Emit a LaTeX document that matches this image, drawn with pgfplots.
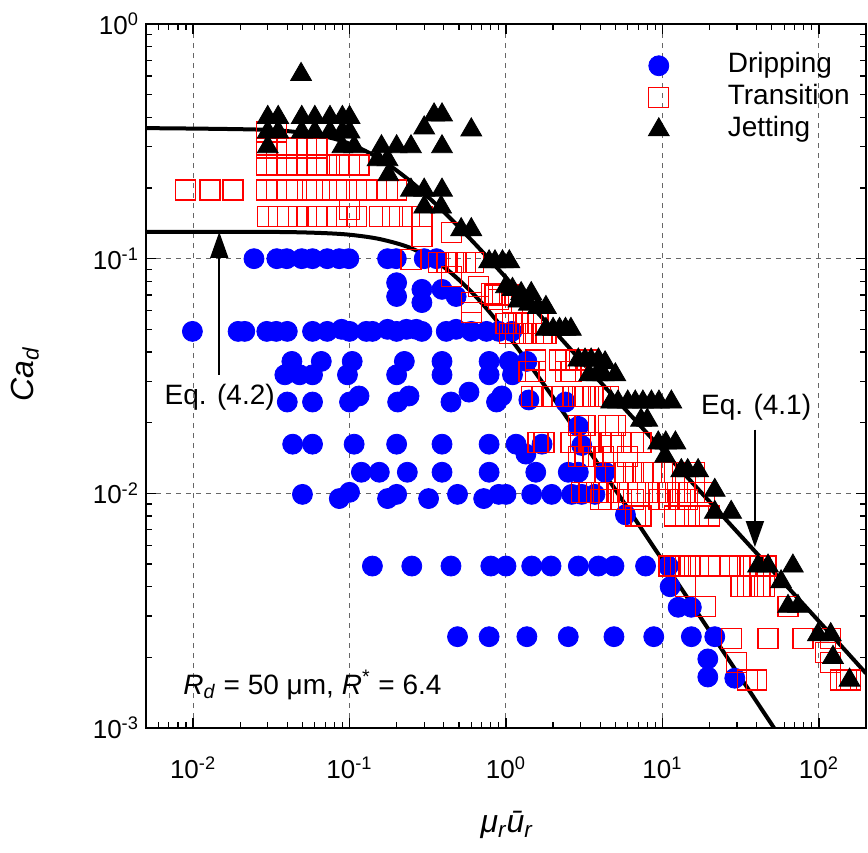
\documentclass[border=0pt]{standalone}
\usepackage{fontspec}
\setmainfont{Liberation Sans}
\usepackage{pgfplots}
\pgfplotsset{compat=1.18}
\usetikzlibrary{arrows.meta}
\definecolor{dblue}{RGB}{0,0,255}
\definecolor{dred}{RGB}{255,0,0}
\begin{document}
\begin{tikzpicture}
\begin{axis}[
  xmode=log, ymode=log,
  scale only axis, width=360pt, height=352pt,
  xmin=5e-3, xmax=200, ymin=1e-3, ymax=1,
  xtick={1e-2,1e-1,1,10,100},
  xticklabels={10\textsuperscript{-2},10\textsuperscript{-1},10\textsuperscript{0},10\textsuperscript{1},10\textsuperscript{2}},
  ytick={1e-3,1e-2,1e-1,1},
  yticklabels={10\textsuperscript{-3},10\textsuperscript{-2},10\textsuperscript{-1},10\textsuperscript{0}},
  minor xtick={6e-3,7e-3,8e-3,9e-3,2e-2,3e-2,4e-2,5e-2,6e-2,7e-2,8e-2,9e-2,0.2,0.3,0.4,0.5,0.6,0.7,0.8,0.9,2,3,4,5,6,7,8,9,20,30,40,50,60,70,80,90,200},
  minor ytick={2e-3,3e-3,4e-3,5e-3,6e-3,7e-3,8e-3,9e-3,2e-2,3e-2,4e-2,5e-2,6e-2,7e-2,8e-2,9e-2,0.2,0.3,0.4,0.5,0.6,0.7,0.8,0.9},
  tick align=inside,
  major tick length=5pt, minor tick length=3pt,
  tick style={black, line width=0.6pt},
  axis line style={line width=1.3pt},
  grid=major,
  major grid style={dash pattern=on 2.5pt off 2.5pt, black!60, line width=0.5pt},
  tick label style={font=\fontsize{13}{15}\selectfont},
  xticklabel style={yshift=-11pt},
  xlabel={\textit{μ\textsubscript{r}ū\textsubscript{r}}},
  ylabel={\textit{Ca}\textsubscript{\textit{d}}},
  xlabel style={at={(axis description cs:0.501,-0.138)}, anchor=center, font=\fontsize{16}{18}\selectfont},
  ylabel style={at={(axis description cs:-0.168,0.503)}, anchor=center, font=\fontsize{16}{18}\selectfont},
  legend style={at={(0.695,0.964)}, anchor=north west, draw=none, fill=none,
    font=\fontsize{14}{16}\selectfont, inner sep=0pt, row sep=0pt,
    nodes={text height=10pt, text depth=3pt, inner sep=1.5pt}},
  legend cell align=left,
  legend image code/.code={\path[draw=none,fill=none] (-6pt,-1pt) rectangle (33pt,1pt); \draw[#1] plot coordinates {(0pt,0pt)};},
]
% Dripping
\addplot[only marks, mark=*, mark size=5pt, color=dblue, mark options={fill=dblue, draw=dblue}] coordinates {
(0.0245,0.1)(0.0343,0.1)(0.0397,0.1)(0.0495,0.1)(0.058,0.1)(0.072,0.1)(0.086,0.1)(0.099,0.1)(0.175,0.1)(0.199,0.1)(0.30,0.1)(0.36,0.1)
(0.2,0.079)(0.2,0.069)(0.29,0.074)(0.29,0.065)(0.39,0.074)(0.48,0.069)
(0.0099,0.049)(0.0194,0.049)(0.0214,0.049)(0.0296,0.049)(0.034,0.049)(0.040,0.049)(0.058,0.049)(0.072,0.049)(0.089,0.05)(0.1,0.049)(0.128,0.049)(0.14,0.049)(0.175,0.05)(0.2,0.049)(0.231,0.05)(0.267,0.05)(0.29,0.049)(0.415,0.049)(0.48,0.05)(0.6,0.049)(0.75,0.049)(0.9,0.049)(1.09,0.049)
(0.0428,0.0365)(0.066,0.0365)(0.104,0.0365)(0.224,0.0365)(0.39,0.0365)(0.78,0.0365)(1.05,0.0365)(1.36,0.0365)
(0.0386,0.032)(0.048,0.032)(0.058,0.032)(0.097,0.032)(0.2,0.032)(0.39,0.032)(0.78,0.032)(1.1,0.032)
(0.040,0.0245)(0.058,0.0245)(0.1,0.0245)(0.115,0.026)(0.203,0.0245)(0.24,0.026)(0.445,0.0245)(0.58,0.027)(0.87,0.0245)(0.94,0.026)(1.4,0.025)(2.4,0.0245)
(0.0433,0.0162)(0.058,0.0162)(0.107,0.0162)(0.2,0.0162)(0.39,0.0162)(0.78,0.0162)(1.16,0.0162)(1.7,0.0162)(3.05,0.016)(2.9,0.0193)(1.34,0.0147)
(0.119,0.0123)(0.155,0.0123)(0.234,0.0123)(0.39,0.0123)(0.78,0.0123)(1.55,0.0123)(2.5,0.0123)(2.9,0.0123)(4.3,0.0123)
(0.05,0.0099)(0.086,0.0095)(0.1,0.0101)(0.175,0.0095)(0.2,0.0099)(0.32,0.0095)(0.49,0.0099)(0.72,0.0095)(0.9,0.0099)(1.0,0.0099)(1.46,0.0099)(1.96,0.0099)(2.63,0.0099)(3.05,0.0099)(3.7,0.0099)(5.8,0.0081)
(0.14,0.0049)(0.25,0.0049)(0.445,0.0049)(0.8,0.0049)(1.0,0.0049)(1.46,0.0049)(1.94,0.0049)(2.9,0.0049)(3.9,0.0049)(4.9,0.0049)(7.8,0.0049)(10.9,0.0049)(11.2,0.0040)(12.6,0.00327)(15.3,0.00327)
(0.49,0.00245)(0.78,0.00245)(1.36,0.00245)(2.5,0.00245)(4.9,0.00245)(8.8,0.00245)(15.3,0.00245)(21.6,0.00245)(19.5,0.00197)(19.5,0.00165)(29,0.00163)
};
\addlegendentry{Dripping}
% Transition
\addplot[only marks, mark=square, mark size=5pt, color=dred, mark options={line width=0.65pt}] coordinates {
(0.0089,0.196)(0.0128,0.196)(0.018,0.196)
(0.0296,0.347)(0.0343,0.347)
(0.0296,0.296)(0.0343,0.296)(0.040,0.296)(0.053,0.296)(0.062,0.296)
(0.0296,0.251)(0.0343,0.251)(0.040,0.251)(0.046,0.251)(0.053,0.251)(0.062,0.251)(0.071,0.251)(0.086,0.251)(0.1,0.251)(0.115,0.251)
(0.0296,0.196)(0.0343,0.196)(0.040,0.196)(0.046,0.196)(0.058,0.196)(0.071,0.196)(0.086,0.196)(0.111,0.196)(0.128,0.196)(0.175,0.196)(0.2,0.196)
(0.030,0.151)(0.035,0.151)(0.040,0.151)(0.047,0.151)(0.053,0.151)(0.062,0.151)(0.071,0.151)(0.083,0.151)(0.096,0.151)(0.111,0.151)(0.155,0.151)(0.188,0.151)(0.241,0.151)(0.29,0.151)
(0.1,0.162)(0.29,0.124)(0.45,0.129)
(0.247,0.099)(0.37,0.096)(0.42,0.096)(0.48,0.096)(0.55,0.096)(0.62,0.096)(0.45,0.084)(0.67,0.076)(0.6,0.065)(0.81,0.071)(0.9,0.067)(0.6,0.059)
(0.85,0.07)(0.95,0.07)(1.05,0.07)(1.1,0.065)(1.25,0.065)
(1.0,0.053)(1.1,0.053)(1.2,0.053)(1.3,0.053)(1.45,0.053)(1.6,0.053)
(1.05,0.048)(1.15,0.048)(1.3,0.048)(1.5,0.048)(1.7,0.048)(1.8,0.048)
(1.55,0.037)(2.2,0.037)(2.4,0.037)(2.8,0.037)(3.3,0.037)
(1.4,0.033)(1.55,0.033)(2.4,0.033)(2.6,0.033)
(1.46,0.0258)(1.7,0.0258)(2.0,0.0258)(2.3,0.0258)(2.9,0.0258)(3.2,0.0258)(3.6,0.0258)(4.0,0.0258)(4.5,0.0258)
(2.9,0.0195)(3.2,0.0195)(4.5,0.0195)(5.0,0.0195)
(1.6,0.0165)(1.75,0.0165)(2.6,0.0165)(3.0,0.0165)(3.4,0.0165)(4.0,0.0165)(4.7,0.0165)(5.5,0.0165)(6.5,0.0165)(7.3,0.0165)
(2.9,0.0144)(3.2,0.0144)(3.6,0.0144)(4.2,0.0144)(6.0,0.0144)
(4.3,0.0123)(5.0,0.0123)(5.8,0.0123)(6.5,0.0123)(7.5,0.0123)(8.5,0.0123)(10,0.0123)(12,0.0123)(14,0.0123)(16,0.0123)
(3.05,0.0101)(3.4,0.0101)(3.8,0.0101)(4.2,0.0101)(4.6,0.0101)(5.2,0.0101)(6.0,0.0101)(7.0,0.0101)(8.0,0.0101)(9.0,0.0101)(10,0.0101)(11,0.0101)(12.5,0.0101)(14,0.0101)(16,0.0101)(18.5,0.0101)
(4.0,0.0094)(4.5,0.0094)(5.5,0.0094)(6.5,0.0094)(9.5,0.0094)(11,0.0094)(13,0.0094)(14.5,0.0094)
(6.7,0.008)(7.3,0.008)(12,0.008)(14,0.008)(17,0.008)(20,0.008)
(11,0.0049)(12,0.0049)(13,0.0049)(14,0.0049)(15,0.0049)(17,0.0049)(20,0.0049)(27,0.0049)(31,0.0049)(35,0.0049)(38,0.0049)(42,0.0049)(46,0.0049)
(14,0.004)(31.8,0.004)(35,0.004)(38,0.004)(42,0.004)(45,0.004)
(18.8,0.0033)(63.5,0.0033)
(27.5,0.0024)(47.3,0.0024)(79,0.0024)(119,0.0024)
(29.6,0.0019)(110,0.0021)(119,0.0019)
(35,0.0016)(40,0.0016)(138,0.0016)(150,0.0016)(160,0.0016)
};
\addlegendentry{Transition}
% Jetting
\addplot[only marks, mark=triangle*, mark size=6pt, color=black, mark options={fill=black}] coordinates {
(0.049,0.61)
(0.030,0.40)(0.035,0.40)(0.0495,0.40)(0.060,0.40)(0.075,0.40)(0.090,0.40)(0.1,0.40)(0.347,0.41)(0.39,0.41)
(0.030,0.347)(0.035,0.347)(0.0495,0.347)(0.060,0.347)(0.075,0.347)(0.090,0.347)(0.1,0.347)(0.30,0.361)(0.6,0.354)
(0.030,0.30)(0.09,0.30)(0.107,0.30)(0.16,0.30)(0.2,0.30)(0.247,0.30)(0.39,0.30)
(0.151,0.264)(0.175,0.264)(0.177,0.228)
(0.247,0.196)(0.30,0.196)(0.39,0.196)
(0.30,0.166)(0.385,0.166)
(0.517,0.133)(0.60,0.133)
(0.78,0.097)(0.85,0.097)(0.95,0.097)(1.05,0.097)
(1.0,0.076)(1.1,0.074)(1.25,0.071)(1.45,0.071)
(1.2,0.066)(1.4,0.064)(1.6,0.062)(1.8,0.062)
(1.8,0.05)(2.0,0.05)(2.2,0.05)(2.4,0.05)(2.6,0.05)
(2.9,0.037)(3.2,0.037)(3.5,0.037)(3.9,0.037)(4.3,0.036)
(3.4,0.032)(3.8,0.032)(4.2,0.032)(5.0,0.032)
(4.7,0.0245)(5.2,0.0245)(6.0,0.0245)(6.7,0.0245)(7.5,0.0245)(8.5,0.0245)(9.5,0.0245)(11.4,0.0245)
(7.3,0.0205)(8.0,0.0205)
(9.4,0.0164)(10.5,0.0164)(12.1,0.0164)(10.4,0.0144)
(13.2,0.0125)(14.5,0.0125)(16.9,0.0125)
(21.6,0.0103)(21.6,0.0083)(27.5,0.0083)
(40.8,0.0049)(47.3,0.0049)(68.2,0.0049)
(57.3,0.0042)
(63.5,0.0033)(73.5,0.0033)
(98.6,0.0025)(119,0.0025)
(123,0.0020)
(157,0.0016)
};
\addlegendentry{Jetting}
% Eq. (4.1) curve
\addplot[black, line width=2pt, smooth, forget plot] coordinates {
(0.005,0.36)(0.03,0.354)(0.063,0.336)(0.1,0.309)(0.158,0.265)(0.251,0.211)(0.398,0.159)(0.631,0.116)(1,0.083)(3.16,0.0355)(10,0.0153)(31.6,0.0066)(100,0.00285)(200,0.00171)
};
% Eq. (4.2) curve
\addplot[black, line width=2pt, smooth, forget plot] coordinates {
(0.005,0.130)(0.0316,0.130)(0.063,0.1288)(0.1,0.1265)(0.158,0.121)(0.251,0.1104)(0.398,0.0925)(0.631,0.0698)(1,0.0484)(2,0.0256)(3.98,0.013)(10,0.00519)(31.6,0.00164)(63,0.00082)
};
\draw[line width=0.8pt, -{Triangle[width=9pt,length=13pt]}] (axis cs:0.0147,0.032) -- (axis cs:0.0147,0.13);
\draw[line width=0.8pt, -{Triangle[width=9pt,length=13pt]}] (axis cs:39,0.0187) -- (axis cs:39,0.0059);
\node[font=\fontsize{14}{16}\selectfont] at (axis cs:0.0148,0.0256) {Eq. (4.2)};
\node[font=\fontsize{14}{16}\selectfont] at (axis cs:39.7,0.0233) {Eq. (4.1)};
\node[anchor=west, font=\fontsize{14}{16}\selectfont] at (rel axis cs:0.042,0.061) {\textit{R}\textsubscript{\textit{d}} = 50 μm, \textit{R}\textsuperscript{*} = 6.4};
\coordinate (SW) at (rel axis cs:0,0);
\coordinate (NE) at (rel axis cs:1,1);
\end{axis}
\pgfresetboundingbox
\path ([shift={(-73pt,-62pt)}]SW) rectangle ([shift={(1pt,12pt)}]NE);
\end{tikzpicture}
\end{document}
